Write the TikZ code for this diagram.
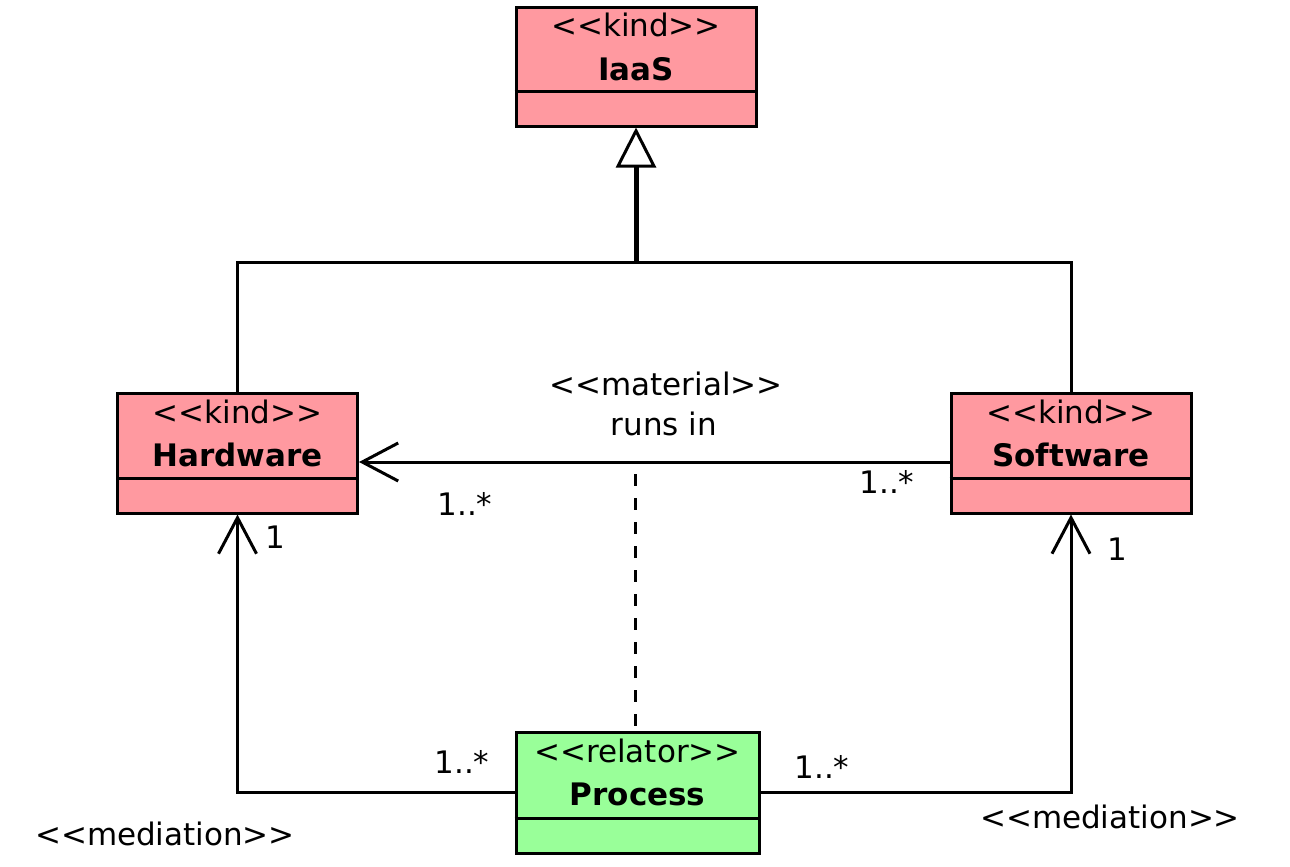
\documentclass[tikz,border=0pt]{standalone}
\usepackage{fontspec}
\setmainfont{DejaVu Sans}[Ligatures=TeXOff]
\usetikzlibrary{arrows.meta,positioning}
\definecolor{kindpink}{RGB}{255,153,160}
\definecolor{relgreen}{RGB}{153,255,153}
\tikzstyle{every node}=[font=\fontsize{15.5}{18}\selectfont]
\tikzstyle{every path}=[line width=1.5pt,line join=miter]
\tikzstyle{classbox}=[draw,rectangle,inner sep=0pt,minimum width=120pt,minimum height=60pt]
\tikzstyle{stereo}=[anchor=base,inner sep=0pt]
\tikzstyle{cname}=[anchor=base,inner sep=0pt,font=\fontsize{15.5}{18}\selectfont\bfseries]
\tikzstyle{mult}=[anchor=base,inner sep=0pt]
\tikzstyle{assoc}=[-{Straight Barb[length=18pt,width=19pt]}]
\tikzstyle{gener}=[line width=2.5pt,-{Triangle[open,length=20pt,width=20pt,line width=1.5pt]}]

\begin{document}
\begin{tikzpicture}[x=0.5pt,y=-0.5pt]
    \useasboundingbox (0,0) rectangle (1290,867);

    % Class boxes
    \node[classbox,fill=kindpink,minimum height=59.5pt] (iaas) at (636,66.5) {};
    \node[classbox,fill=kindpink] (hw) at (237.5,453) {};
    \node[classbox,fill=kindpink] (sw) at (1071,453) {};
    \node[classbox,fill=relgreen,minimum width=121.5pt,minimum height=60.5pt] (proc) at (637.5,792.5) {};
    \foreach \b in {iaas,hw,sw,proc}
        \draw ([yshift=18pt]\b.south west) -- ([yshift=18pt]\b.south east);

    % Stereotypes and names
    \node[stereo] (iaas-st) at ([yshift=-15.5pt]iaas.north) {<<kind>>};
    \node[cname] (iaas-nm) at ([yshift=-37.3pt]iaas.north) {IaaS};
    \node[stereo] (hw-st) at ([yshift=-15.8pt]hw.north) {<<kind>>};
    \node[cname] (hw-nm) at ([yshift=-37.5pt]hw.north) {Hardware};
    \node[stereo] (sw-st) at ([yshift=-15.8pt]sw.north) {<<kind>>};
    \node[cname] (sw-nm) at ([yshift=-37.5pt]sw.north) {Software};
    \node[stereo] (proc-st) at ([yshift=-15.8pt]proc.north) {<<relator>>};
    \node[cname] (proc-nm) at ([yshift=-37.5pt]proc.north) {Process};

    % Generalization
    \coordinate (genjoin) at (636,262);
    \draw (hw.north) |- (genjoin) -| (sw.north);
    \draw[gener] (genjoin) -- (iaas.south);

    % Material relation
    \draw[assoc] ([yshift=-4.5pt]sw.west) -- ([yshift=-4.5pt]hw.east);
    \node[stereo] (mat-st) at (666,395) {<<material>>};
    \node[stereo] (mat-nm) at (664,435) {runs in};
    \node[mult] (mat-hw) at (465,515) {1..*};
    \node[mult] (mat-sw) at (887,493) {1..*};
    \coordinate (matmid) at (635,474);
    \draw[dash pattern=on 6pt off 6pt] (matmid) -- (matmid |- proc.north);

    % Mediations
    \draw[assoc] (proc.west) -| (hw.south);
    \draw[assoc] (proc.east) -| (sw.south);
    \node[mult] (med-hw) at (275,548) {1};
    \node[mult] (med-sw) at (1117,560) {1};
    \node[mult] (med-pl) at (462,773) {1..*};
    \node[mult] (med-pr) at (822,778) {1..*};
    \node[stereo] (med-l) at (165,845) {<<mediation>>};
    \node[stereo] (med-r) at (1110,828) {<<mediation>>};
\end{tikzpicture}
\end{document}
